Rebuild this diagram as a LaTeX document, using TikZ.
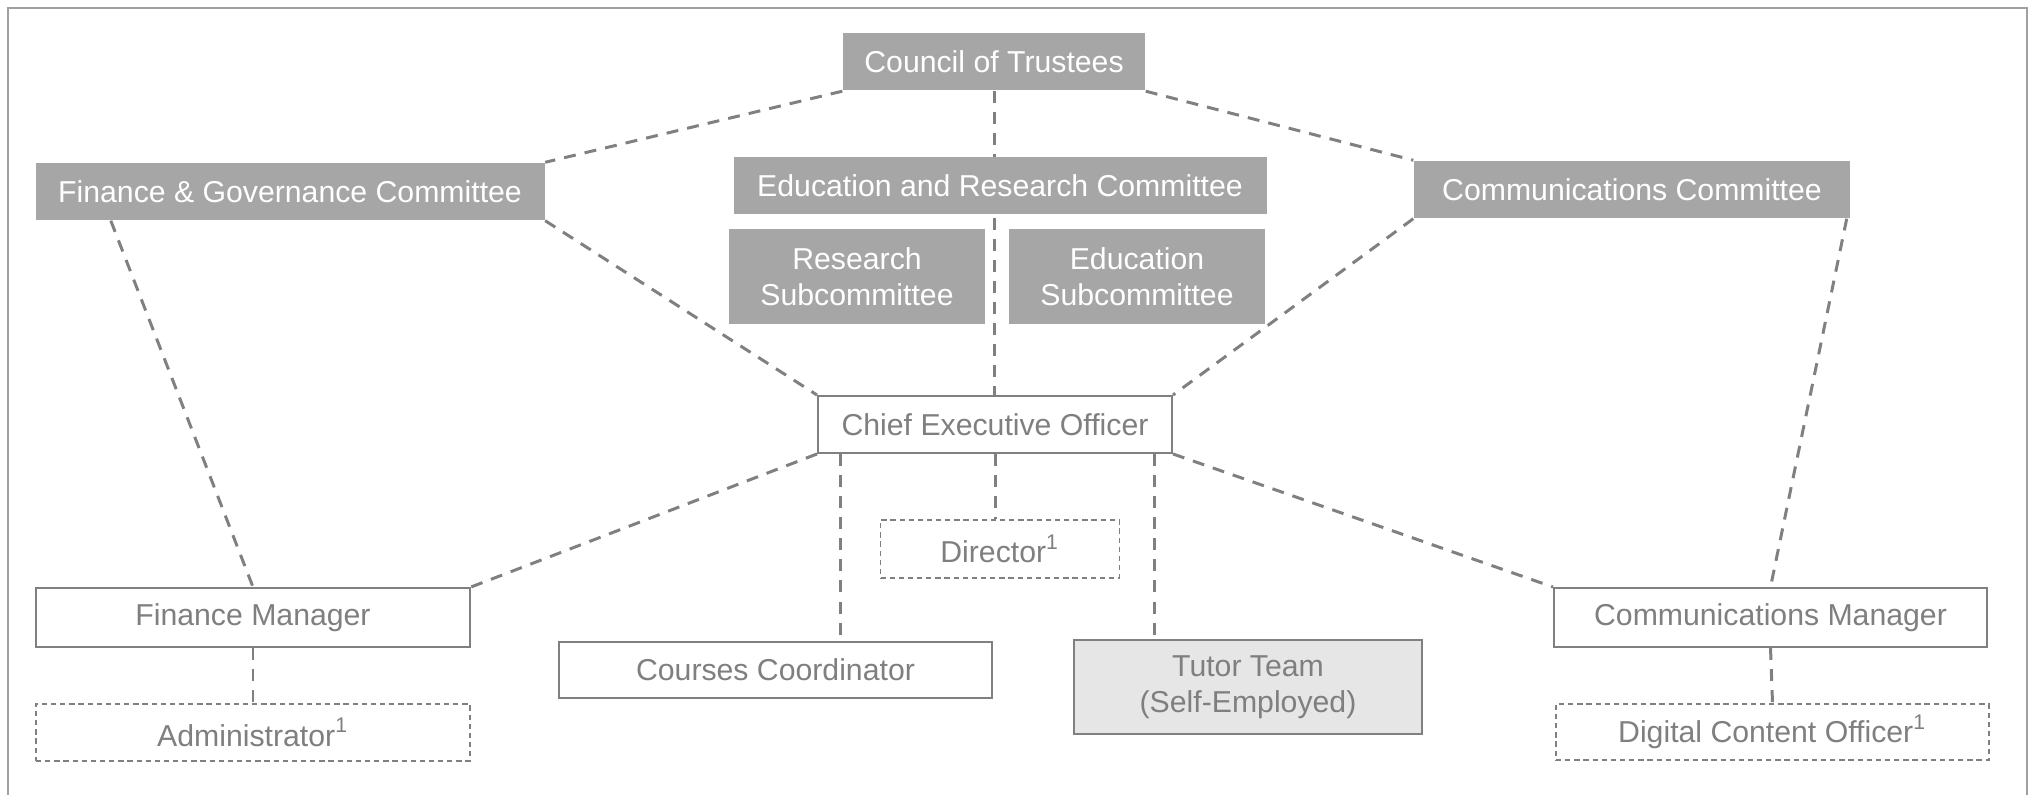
\documentclass[tikz,border=0pt]{standalone}
\usepackage{fontspec}
\setmainfont{Liberation Sans}
\usetikzlibrary{backgrounds}

\definecolor{boardgray}{HTML}{A6A6A6}
\definecolor{linegray}{HTML}{808080}
\definecolor{textgray}{HTML}{7F7F7F}
\definecolor{tutorfill}{HTML}{E7E6E6}
\definecolor{framegray}{HTML}{A0A0A0}

\newcommand\rowH{.57}
\newcommand\subH{.95}
\newcommand\postW{4.34}

\tikzset{
  base/.style={rectangle, inner sep=0pt, align=center, font=\fontsize{8.6}{10.3}\selectfont},
  board/.style={base, fill=boardgray, text=white, minimum height=\rowH cm},
  post/.style={base, draw=linegray, line width=.55pt, fill=white, text=textgray, minimum height=\rowH cm, minimum width=\postW cm},
  vacant/.style={post, line width=.4pt, dash pattern=on 1.5pt off 1.1pt},
  link/.style={draw=linegray, line width=.85pt, dash pattern=on 3.4pt off 2.6pt},
}

\begin{document}
\begin{tikzpicture}
  \useasboundingbox (0,0) rectangle (20.33,-7.95);

  % board level
  \node[board, minimum width=3.02cm] (council) at (9.94,-.62) {Council of Trustees};
  \node[board, minimum width=5.09cm] (fgc) at (2.90,-1.915) {Finance \& Governance Committee};
  \node[board, minimum width=5.33cm] (erc) at (10.00,-1.855) {Education and Research Committee};
  \node[board, minimum width=4.36cm] (ccom) at (16.32,-1.895) {Communications Committee};
  \node[board, minimum width=2.56cm, minimum height=\subH cm] (ressub) at (8.57,-2.765) {Research\\Subcommittee};
  \node[board, minimum width=2.56cm, minimum height=\subH cm] (edusub) at (11.37,-2.765) {Education\\Subcommittee};

  % staff
  \node[post, minimum width=3.54cm] (ceo) at (9.95,-4.245) {Chief Executive Officer};
  \node[vacant, minimum width=2.39cm, minimum height=.58cm] (director) at (10.00,-5.49) {Director\textsuperscript{1}};
  \node[post, minimum height=.59cm] (fm) at (2.53,-6.175) {Finance Manager};
  \node[vacant] (admin) at (2.53,-7.325) {Administrator\textsuperscript{1}};
  \node[post, minimum width=4.33cm, minimum height=.56cm] (cc) at (7.755,-6.70) {Courses Coordinator};
  \node[post, fill=tutorfill, minimum width=3.48cm, minimum height=.94cm] (tutor) at (12.48,-6.87) {Tutor Team\\(Self-Employed)};
  \node[post, minimum width=4.33cm, minimum height=.59cm] (cm) at (17.705,-6.175) {Communications Manager};
  \node[vacant, minimum width=4.33cm, minimum height=.56cm] (dco) at (17.725,-7.32) {Digital Content Officer\textsuperscript{1}};

  \begin{scope}[on background layer]
    % outer frame, open at the bottom
    \draw[framegray, line width=.6pt] (.08,-7.95) -- (.08,-.08) -- (20.27,-.08) -- (20.27,-7.95);

    % reporting lines
    \draw[link] (council.south west) -- (fgc.north east);
    \draw[link] (council.south east) -- (ccom.north west);
    \draw[link] (council.south) -- (council.south |- ceo.north);
    \draw[link] (fgc.south east) -- (ceo.north west);
    \draw[link] (ccom.south west) -- (ceo.north east);
    \draw[link] ([xshift=7.6mm]fgc.south west) -- (fm.north);
    \draw[link] ([xshift=-.4mm]ccom.south east) -- (cm.north);
    \draw[link] (ceo.south west) -- (fm.north east);
    \draw[link] (ceo.south east) -- (cm.north west);
    \draw[link] ([xshift=2.3mm]ceo.south west) -- ([xshift=2.3mm]ceo.south west |- cc.north);
    \draw[link] (ceo.south) -- (ceo.south |- director.north);
    \draw[link] ([xshift=-1.8mm]ceo.south east) -- ([xshift=-1.8mm]ceo.south east |- tutor.north);
    \draw[link] (fm.south) -- (admin.north);
    \draw[link] (cm.south) -- (dco.north);
  \end{scope}
\end{tikzpicture}
\end{document}
